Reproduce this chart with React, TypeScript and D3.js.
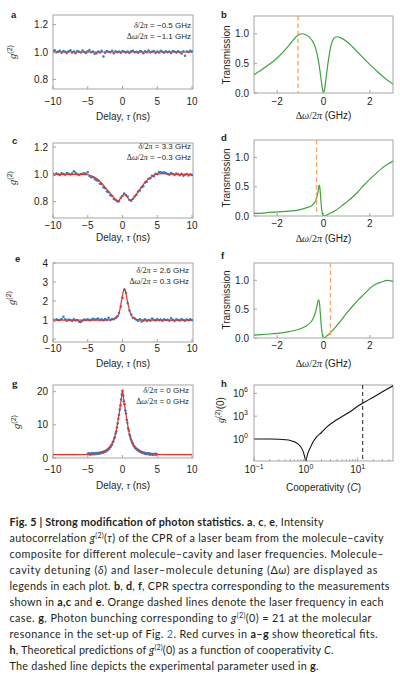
import React from "react";
import * as d3 from "d3";

// ---------------- data ----------------
const delayTicks = [-10, -5, 0, 5, 10];
const detuneTicks = [-2, 0, 2];
const ticksAC = [0.8, 1.0, 1.2];
const ticksE = [0, 1, 2, 3, 4];
const ticksG = [0, 10, 20];
const ticksT = [0, 0.5, 1.0];
const coopTicks = [0.1, 1, 10];
const coopTickExp = ["−1", "0", "1"];
const g2LogTicks = [1, 1e3, 1e6];
const g2LogTickExp = ["0", "3", "6"];

// measured delay grid (0.25 ns bins) and the narrower 0.1 ns grid of panel g
const tauGrid = d3.range(-10, 10.0001, 0.25);
const tauGridG = d3.range(-5, 5.0001, 0.1);

const g2A = [
  1.005, 1.012, 0.998, 1.003, 1.01, 0.995, 1.007, 1.001, 0.992, 1.006,
  1.013, 0.997, 1.004, 0.99, 1.008, 1.002, 0.996, 1.011, 1.0, 0.993,
  1.006, 1.015, 0.999, 1.003, 0.988, 0.99, 1.004, 0.996, 1.009, 0.968,
  0.994, 1.007, 1.002, 0.998, 1.01, 0.991, 1.005, 0.999, 1.003, 0.995,
  1.008, 1.001, 0.997, 1.004, 0.992, 1.006, 1.01, 0.998, 1.002, 0.994,
  1.007, 1.003, 0.99, 1.005, 0.999, 1.011, 0.996, 1.002, 1.008, 0.993,
  1.004, 0.997, 1.009, 1.001, 0.995, 1.006, 0.999, 1.003, 0.992, 1.008,
  1.002, 0.996, 1.005, 0.998, 0.989, 1.006, 0.972, 1.003, 1.0, 1.01, 1.004,
];
const g2C = [
  1.003, 0.998, 1.006, 1.001, 0.995, 1.008, 1.002, 0.997, 1.01, 1.004, 0.999, 1.007, 1.022, 1.012, 1.001, 0.996, 1.003,
  1.004, 1.009, 1.003, 1.016, 0.988, 0.978, 0.98, 0.966,
  0.957, 0.953, 0.931, 0.928, 0.905, 0.899, 0.874, 0.868,
  0.846, 0.842, 0.82, 0.812, 0.801, 0.803, 0.828, 0.842,
  0.86, 0.846, 0.838, 0.812, 0.806, 0.822, 0.84, 0.851,
  0.874, 0.882, 0.905, 0.912, 0.94, 0.946, 0.968, 0.971,
  0.99, 0.986, 1.004, 1.001, 1.018, 1.015, 1.012, 1.016,
  1.008, 1.003, 0.998, 1.01, 1.002, 0.996, 1.007, 1.0, 0.994, 1.005, 0.99, 0.998, 1.003, 0.992, 0.999, 0.995,
];
const g2E = [
  1.02, 0.98, 1.04, 0.99, 1.01, 1.06, 1.17, 1.05, 0.97, 1.03,
  1.0, 0.95, 1.04, 0.98, 1.01, 0.92, 0.9, 0.96, 1.03, 1.0,
  1.05, 0.99, 1.02, 1.07, 1.03, 1.05, 1.08, 1.01, 1.04, 0.99,
  1.06, 1.02, 1.12, 1.0, 1.06, 1.04, 1.12, 1.2, 1.38, 1.72,
  2.18, 2.58, 2.42, 1.9, 1.5, 1.3, 1.12, 1.08, 1.02, 0.96,
  1.05, 0.93, 0.97, 1.04, 0.95, 1.01, 0.97, 1.08, 1.02, 0.98,
  1.06, 0.99, 1.03, 0.96, 1.05, 1.0, 1.02, 0.97, 1.1, 1.01,
  0.95, 1.04, 1.0, 0.98, 1.06, 1.01, 0.97, 1.03, 0.99, 1.04, 1.0,
];
const g2G = [
  1.3, 1.1, 1.4, 1.2, 1.0, 1.3, 1.5, 1.1, 1.2, 1.4,
  1.1, 1.3, 1.5, 1.2, 1.4, 1.6, 1.3, 1.5, 1.4, 1.7,
  1.5, 1.8, 1.6, 1.9, 2.0, 1.8, 2.2, 2.1, 2.5, 2.4,
  2.9, 2.8, 3.3, 3.4, 3.9, 4.1, 4.8, 5.0, 5.9, 6.3,
  7.4, 8.0, 9.2, 10.4, 11.8, 13.0, 14.6, 15.9, 17.6, 19.1,
  20.3, 18.8, 17.1, 16.2, 14.3, 13.4, 11.5, 10.6, 9.0, 8.3,
  7.1, 6.5, 5.7, 5.2, 4.6, 4.3, 3.8, 3.5, 3.1, 3.0,
  2.7, 2.6, 2.3, 2.4, 2.0, 2.1, 1.8, 1.9, 1.6, 1.7,
  1.5, 1.6, 1.3, 1.5, 1.2, 1.4, 1.3, 1.1, 1.4, 1.2,
  1.0, 1.3, 1.1, 1.2, 0.9, 1.2, 1.1, 1.3, 1.0, 1.2, 1.1,
];

// theoretical fits (red)
const fitATau = [-10, 10];
const fitAVal = [1.0, 1.0];
const fitCTau = [-10, -6, -5, -4.5, -4, -3.5, -3, -2.5, -2, -1.5, -1, -0.65, -0.3, 0, 0.25, 0.5, 0.8, 1.1, 1.4, 1.8, 2.2, 2.7, 3.2, 3.7, 4.2, 4.7, 5.2, 6, 7, 8, 10];
const fitCVal = [1.0, 1.0, 0.997, 0.99, 0.978, 0.96, 0.935, 0.905, 0.875, 0.845, 0.815, 0.807, 0.822, 0.845, 0.855, 0.848, 0.825, 0.811, 0.815, 0.838, 0.87, 0.905, 0.94, 0.965, 0.985, 0.998, 1.004, 1.005, 1.002, 1.0, 1.0];
const fitETau = [-10, -3, -2, -1.5, -1, -0.75, -0.5, -0.25, 0, 0.15, 0.3, 0.45, 0.6, 0.85, 1.1, 1.35, 1.6, 2.1, 2.6, 3.5, 10];
const fitEVal = [1, 1, 1.01, 1.03, 1.08, 1.17, 1.35, 1.8, 2.3, 2.55, 2.65, 2.5, 2.2, 1.75, 1.4, 1.2, 1.1, 1.03, 1.01, 1, 1];
const fitGTau = [-10, -5, -4, -3, -2.5, -2, -1.5, -1.25, -1, -0.75, -0.5, -0.35, -0.2, -0.1, 0, 0.1, 0.2, 0.35, 0.5, 0.75, 1, 1.25, 1.5, 2, 2.5, 3, 4, 5, 10];
const fitGVal = [1, 1.05, 1.2, 1.6, 2.0, 2.8, 4.2, 5.5, 7.3, 10.0, 13.2, 15.2, 17.3, 19.0, 20.5, 19.0, 17.3, 15.2, 13.2, 10.0, 7.3, 5.5, 4.2, 2.8, 2.0, 1.6, 1.2, 1.05, 1];

// CPR spectra (green)
const specBDelta = [-3, -2.75, -2.5, -2.25, -2, -1.75, -1.5, -1.25, -1.05, -0.9, -0.75, -0.6, -0.5, -0.4, -0.3, -0.2, -0.1, -0.05, 0, 0.05, 0.1, 0.2, 0.3, 0.4, 0.5, 0.6, 0.75, 1, 1.25, 1.5, 1.75, 2, 2.25, 2.5, 2.75, 3];
const specBT = [0.31, 0.37, 0.44, 0.51, 0.59, 0.69, 0.8, 0.92, 0.99, 1.0, 0.98, 0.94, 0.89, 0.82, 0.7, 0.5, 0.22, 0.08, 0.0, 0.07, 0.22, 0.52, 0.76, 0.89, 0.94, 0.95, 0.93, 0.87, 0.78, 0.68, 0.58, 0.48, 0.39, 0.3, 0.22, 0.15];
const specDDelta = [-3, -2.5, -2, -1.5, -1, -0.75, -0.5, -0.4, -0.32, -0.26, -0.22, -0.19, -0.16, -0.12, -0.08, -0.04, 0, 0.05, 0.1, 0.25, 0.5, 0.75, 1, 1.25, 1.5, 1.75, 2, 2.25, 2.5, 2.75, 3];
const specDT = [0.045, 0.055, 0.07, 0.085, 0.11, 0.14, 0.18, 0.22, 0.28, 0.37, 0.45, 0.53, 0.5, 0.3, 0.12, 0.03, 0.0, 0.0, 0.01, 0.04, 0.09, 0.16, 0.24, 0.32, 0.42, 0.53, 0.63, 0.72, 0.81, 0.88, 0.94];
const specFDelta = [-3, -2.5, -2, -1.5, -1, -0.75, -0.5, -0.4, -0.33, -0.27, -0.23, -0.2, -0.16, -0.12, -0.08, -0.04, 0, 0.05, 0.1, 0.25, 0.5, 0.75, 1, 1.25, 1.5, 1.75, 2, 2.25, 2.5, 2.75, 3];
const specFT = [0.05, 0.065, 0.08, 0.11, 0.16, 0.21, 0.3, 0.38, 0.47, 0.58, 0.65, 0.66, 0.55, 0.33, 0.15, 0.04, 0.0, 0.0, 0.02, 0.07, 0.18, 0.3, 0.43, 0.55, 0.66, 0.76, 0.86, 0.93, 0.97, 1.0, 0.98];
const laserB = -1.1;
const laserD = -0.3;
const laserF = 0.3;

// cooperativity (h): C and log10 g2(0)
const coopC = [0.1, 0.2, 0.3, 0.4, 0.5, 0.6, 0.7, 0.8, 0.87, 0.92, 0.96, 0.985, 1.0, 1.015, 1.06, 1.12, 1.21, 1.35, 1.63, 2.0, 2.55, 3.5, 4.6, 7, 10, 14, 20, 30, 48];
const coopLogG2 = [0, -0.01, -0.04, -0.1, -0.2, -0.38, -0.65, -1.05, -1.5, -2.0, -2.5, -2.9, -4, -2.9, -2.2, -1.7, -1.2, -0.5, 0.3, 0.85, 1.6, 2.3, 2.8, 3.55, 4.3, 4.9, 5.5, 6.2, 7.0];
const coopExperiment = 12.5;

// ---------------- style ----------------
const FONT = "'Liberation Sans', Arial, Helvetica, sans-serif";
const SERIF = "'Liberation Serif', 'Times New Roman', serif";
const CAPFONT = "Lato, 'Open Sans', sans-serif";
const FRAME = "#9b9b9b";
const TXT = "#231f20";
const BLUE = "#2f7fc1";
const RED = "#e5322d";
const GREEN = "#3ea53c";
const ORANGE = "#f7a862";

type Box = { x0: number; x1: number; y0: number; y1: number };
const fmt = (v: number, d = 0) => (v < 0 ? "−" : "") + Math.abs(v).toFixed(d);

function Frame({ box, id }: { box: Box; id: string }) {
  return (
    <>
      <defs>
        <clipPath id={id}>
          <rect x={box.x0} y={box.y0} width={box.x1 - box.x0} height={box.y1 - box.y0} />
        </clipPath>
      </defs>
      <rect x={box.x0} y={box.y0} width={box.x1 - box.x0} height={box.y1 - box.y0} fill="none" stroke={FRAME} strokeWidth={0.9} />
    </>
  );
}

function LinAxes({ box, x, y, xt, yt, yd, xLabY, yLabX }: any) {
  return (
    <g fontSize={10} fill={TXT}>
      {xt.map((t: number) => (
        <g key={"x" + t}>
          <line x1={x(t)} x2={x(t)} y1={box.y1} y2={box.y1 - 3} stroke={FRAME} strokeWidth={0.9} />
          <text x={x(t)} y={xLabY} textAnchor="middle">{fmt(t)}</text>
        </g>
      ))}
      {yt.map((t: number) => (
        <g key={"y" + t}>
          <line x1={box.x0} x2={box.x0 + 3} y1={y(t)} y2={y(t)} stroke={FRAME} strokeWidth={0.9} />
          <text x={yLabX} y={y(t) + 3.6} textAnchor="end">{fmt(t, yd)}</text>
        </g>
      ))}
    </g>
  );
}

function G2Label({ x, y }: { x: number; y: number }) {
  return (
    <text transform={`translate(${x},${y}) rotate(-90)`} textAnchor="middle" fontSize={10.5} fill={TXT}>
      <tspan fontFamily={SERIF} fontStyle="italic">g</tspan>
      <tspan fontSize={7} dy={-4.5}>(2)</tspan>
    </text>
  );
}

function Legend({ x, y, d, w }: { x: number; y: number; d: string; w: string }) {
  return (
    <g fontSize={8} fill={TXT} textAnchor="end">
      <text x={x} y={y}>
        <tspan fontFamily={SERIF} fontStyle="italic">δ</tspan>
        <tspan fontFamily={SERIF}>/2</tspan>
        <tspan fontFamily={SERIF} fontStyle="italic">π</tspan> = {d} GHz
      </text>
      <text x={x} y={y + 10.5}>
        <tspan fontFamily={SERIF}>Δ</tspan>
        <tspan fontFamily={SERIF} fontStyle="italic">ω</tspan>
        <tspan fontFamily={SERIF}>/2</tspan>
        <tspan fontFamily={SERIF} fontStyle="italic">π</tspan> = {w} GHz
      </text>
    </g>
  );
}

function DelayTitle({ x, y }: { x: number; y: number }) {
  return (
    <text x={x} y={y} textAnchor="middle" fontSize={10} fill={TXT}>
      Delay, <tspan fontFamily={SERIF} fontStyle="italic">τ</tspan> (ns)
    </text>
  );
}
function DetuneTitle({ x, y }: { x: number; y: number }) {
  return (
    <text x={x} y={y} textAnchor="middle" fontSize={10} fill={TXT}>
      <tspan fontFamily={SERIF}>Δ</tspan>
      <tspan fontFamily={SERIF} fontStyle="italic">ω</tspan>
      <tspan fontFamily={SERIF}>/2</tspan>
      <tspan fontFamily={SERIF} fontStyle="italic">π</tspan> (GHz)
    </text>
  );
}
function TransLabel({ x, y }: { x: number; y: number }) {
  return (
    <text transform={`translate(${x},${y}) rotate(-90)`} textAnchor="middle" fontSize={10} fill={TXT}>
      Transmission
    </text>
  );
}
function Letter({ x, y, s, serif }: { x: number; y: number; s: string; serif?: boolean }) {
  return (
    <text x={x} y={y} fontSize={serif ? 11 : 9.5} fontWeight="bold" fontFamily={serif ? SERIF : FONT} fill={TXT}>
      {s}
    </text>
  );
}

function DelayPanel({ id, box, yDom, yt, yd, data, tau, fitT, fitV, xLabY, titleY, legend, labX, letter, letterPos, serifLetter }: any) {
  const x = d3.scaleLinear().domain([-10, 10]).range([box.x0, box.x1 - 1]);
  const y = d3.scaleLinear().domain(yDom).range([box.y1, box.y0]);
  const fitLine = d3.line<number>().x((_, i) => x(fitT[i])).y((v) => y(v)).curve(d3.curveMonotoneX);
  return (
    <g>
      <Frame box={box} id={id} />
      <g clipPath={`url(#${id})`}>
        {data.map((v: number, i: number) => (
          <circle key={i} cx={x(tau[i])} cy={y(v)} r={1.25} fill={BLUE} />
        ))}
        <path d={fitLine(fitV) || ""} fill="none" stroke={RED} strokeWidth={1.2} />
      </g>
      <LinAxes box={box} x={x} y={y} xt={delayTicks} yt={yt} yd={yd} xLabY={xLabY} yLabX={box.x0 - 5} />
      <DelayTitle x={(box.x0 + box.x1) / 2} y={titleY} />
      <G2Label x={labX[0]} y={labX[1]} />
      <Legend x={legend[0]} y={legend[1]} d={legend[2]} w={legend[3]} />
      <Letter x={letterPos[0]} y={letterPos[1]} s={letter} serif={serifLetter} />
    </g>
  );
}

function SpecPanel({ id, box, dl, tr, laser, xLabY, titleY, labPos, letter, letterPos }: any) {
  const x = d3.scaleLinear().domain([-3, 3]).range([box.x0, box.x1]);
  const y = d3.scaleLinear().domain([0, 1.3]).range([box.y1, box.y0]);
  const line = d3.line<number>().x((_, i) => x(dl[i])).y((v) => y(v)).curve(d3.curveMonotoneX);
  return (
    <g>
      <Frame box={box} id={id} />
      <g clipPath={`url(#${id})`}>
        <path d={line(tr) || ""} fill="none" stroke={GREEN} strokeWidth={1.2} />
        <line x1={x(laser)} x2={x(laser)} y1={box.y0} y2={box.y1} stroke={ORANGE} strokeWidth={1.4} strokeDasharray="4.5,3" />
      </g>
      <LinAxes box={box} x={x} y={y} xt={detuneTicks} yt={ticksT} yd={1} xLabY={xLabY} yLabX={box.x0 - 5} />
      <DetuneTitle x={(box.x0 + box.x1) / 2} y={titleY} />
      <TransLabel x={labPos[0]} y={labPos[1]} />
      <Letter x={letterPos[0]} y={letterPos[1]} s={letter} />
    </g>
  );
}

function CoopPanel() {
  const box: Box = { x0: 254, x1: 393, y0: 385, y1: 461 };
  const x = d3.scaleLog().domain([0.1, 48]).range([box.x0, box.x1]);
  const y = d3.scaleLog().domain([Math.pow(10, -2.9), Math.pow(10, 7.1)]).range([box.y1, box.y0]);
  const line = d3
    .line<number>()
    .x((_, i) => x(coopC[i]))
    .y((v) => y(Math.pow(10, v)))
    .curve(d3.curveMonotoneX);
  const minor = x.ticks().filter((t) => !coopTicks.some((m) => Math.abs(m - t) < 1e-9));
  return (
    <g>
      <Frame box={box} id="clipH" />
      <g clipPath="url(#clipH)">
        <path d={line(coopLogG2) || ""} fill="none" stroke="#111" strokeWidth={1.1} />
        <line x1={x(coopExperiment)} x2={x(coopExperiment)} y1={box.y0} y2={box.y1} stroke="#222" strokeWidth={1} strokeDasharray="4,3" />
      </g>
      <g fill={TXT} fontSize={10}>
        {minor.map((t) => (
          <line key={"m" + t} x1={x(t)} x2={x(t)} y1={box.y1} y2={box.y1 - 2} stroke={FRAME} strokeWidth={0.8} />
        ))}
        {coopTicks.map((t, i) => (
          <g key={"x" + t}>
            <line x1={x(t)} x2={x(t)} y1={box.y1} y2={box.y1 - 3.5} stroke={FRAME} strokeWidth={0.9} />
            <text x={x(t)} y={473} textAnchor="middle">
              10<tspan fontSize={7} dy={-4.5}>{coopTickExp[i]}</tspan>
            </text>
          </g>
        ))}
        {g2LogTicks.map((t, i) => (
          <g key={"y" + t}>
            <line x1={box.x0} x2={box.x0 + 3} y1={y(t)} y2={y(t)} stroke={FRAME} strokeWidth={0.9} />
            <text x={box.x0 - 6} y={y(t) + 3.6} textAnchor="end">
              10<tspan fontSize={7} dy={-4.5}>{g2LogTickExp[i]}</tspan>
            </text>
          </g>
        ))}
      </g>
      <text x={(box.x0 + box.x1) / 2} y={491} textAnchor="middle" fontSize={10} fill={TXT}>
        Cooperativity (<tspan fontStyle="italic">C</tspan>)
      </text>
      <text transform="translate(224,410) rotate(-90)" textAnchor="middle" fontSize={10} fill={TXT}>
        <tspan fontFamily={SERIF} fontStyle="italic">g</tspan>
        <tspan fontSize={7} dy={-4.5}>(2)</tspan>
        <tspan dy={4.5}>(0)</tspan>
      </text>
      <Letter x={221} y={387} s="h" />
    </g>
  );
}

function Caption() {
  const X = 9.5;
  const b = (s: string) => <tspan fontWeight="bold">{s}</tspan>;
  const it = (s: string) => <tspan fontStyle="italic">{s}</tspan>;
  const sup = (s: string) => <tspan fontSize={7} dy={-4}>{s}</tspan>;
  return (
    <g fontFamily={CAPFONT} fontSize={10.8} fill={TXT}>
      <text x={X} y={526} textLength={314}>
        {b("Fig. 5 | Strong modification of photon statistics. a")}, {b("c")}, {b("e")}, Intensity
      </text>
      <text x={X} y={542} textLength={374}>
        autocorrelation {it("g")}{sup("(2)")}<tspan dy={4}>(</tspan>{it("τ")}) of the CPR of a laser beam from the molecule–cavity
      </text>
      <text x={X} y={558} textLength={374}>
        composite for different molecule–cavity and laser frequencies. Molecule–
      </text>
      <text x={X} y={574} textLength={368}>
        cavity detuning ({it("δ")}) and laser–molecule detuning (Δ{it("ω")}) are displayed as
      </text>
      <text x={X} y={590} textLength={380}>
        legends in each plot. {b("b")}, {b("d")}, {b("f")}, CPR spectra corresponding to the measurements
      </text>
      <text x={X} y={606} textLength={374}>
        shown in {b("a,c")} and {b("e")}. Orange dashed lines denote the laser frequency in each
      </text>
      <text x={X} y={622} textLength={362}>
        case. {b("g")}, Photon bunching corresponding to {it("g")}{sup("(2)")}<tspan dy={4}>(0) = 21 at the molecular</tspan>
      </text>
      <text x={X} y={638} textLength={368}>
        resonance in the set-up of Fig. <tspan fill="#3b6fb6">2</tspan>. Red curves in {b("a–g")} show theoretical fits.
      </text>
      <text x={X} y={654} textLength={324}>
        {b("h")}, Theoretical predictions of {it("g")}{sup("(2)")}<tspan dy={4}>(0) as a function of cooperativity </tspan>{it("C")}.
      </text>
      <text x={X} y={670} textLength={309}>
        The dashed line depicts the experimental parameter used in {b("g")}.
      </text>
    </g>
  );
}

export default function App() {
  return (
    <svg
      width={400}
      height={678}
      viewBox="0 0 400 678"
      fontFamily={FONT}
      style={{ position: "absolute", left: 0, top: 0, display: "block", background: "#fff" }}
    >
      <rect x={0} y={0} width={400} height={678} fill="#fff" />
      <DelayPanel
        id="clipA" box={{ x0: 53, x1: 193, y0: 15, y1: 89 }} yDom={[0.73, 1.27]} yt={ticksAC} yd={1}
        data={g2A} tau={tauGrid} fitT={fitATau} fitV={fitAVal} xLabY={105} titleY={120}
        legend={[191, 28, "−0.5", "−1.1"]} labX={[16, 52]} letter="a" letterPos={[11, 18]}
      />
      <SpecPanel id="clipB" box={{ x0: 254, x1: 393, y0: 16, y1: 93 }} dl={specBDelta} tr={specBT} laser={laserB}
        xLabY={105} titleY={119} labPos={[230, 55]} letter="b" letterPos={[221, 18]} />
      <DelayPanel
        id="clipC" box={{ x0: 53, x1: 193, y0: 143, y1: 218 }} yDom={[0.68, 1.23]} yt={ticksAC} yd={1}
        data={g2C} tau={tauGrid} fitT={fitCTau} fitV={fitCVal} xLabY={229} titleY={241}
        legend={[191, 149, "3.3", "−0.3"]} labX={[16, 178]} letter="c" letterPos={[12, 144]}
      />
      <SpecPanel id="clipD" box={{ x0: 254, x1: 393, y0: 140, y1: 216 }} dl={specDDelta} tr={specDT} laser={laserD}
        xLabY={227} titleY={242} labPos={[230, 178]} letter="d" letterPos={[221, 141]} />
      <DelayPanel
        id="clipE" box={{ x0: 53, x1: 193, y0: 263, y1: 342 }} yDom={[-0.15, 4]} yt={ticksE} yd={0}
        data={g2E} tau={tauGrid} fitT={fitETau} fitV={fitEVal} xLabY={352} titleY={367}
        legend={[189, 273, "2.6", "0.3"]} labX={[15, 298]} letter="e" letterPos={[15, 262]}
      />
      <SpecPanel id="clipF" box={{ x0: 254, x1: 393, y0: 263, y1: 338 }} dl={specFDelta} tr={specFT} laser={laserF}
        xLabY={349} titleY={367} labPos={[230, 300]} letter="f" letterPos={[221, 259]} />
      <DelayPanel
        id="clipG" box={{ x0: 53, x1: 193, y0: 385, y1: 458 }} yDom={[0, 22]} yt={ticksG} yd={0}
        data={g2G} tau={tauGridG} fitT={fitGTau} fitV={fitGVal} xLabY={473} titleY={489}
        legend={[189, 393, "0", "0"]} labX={[20, 422]} letter="g" letterPos={[12, 387]} serifLetter
      />
      <CoopPanel />
      <Caption />
    </svg>
  );
}
